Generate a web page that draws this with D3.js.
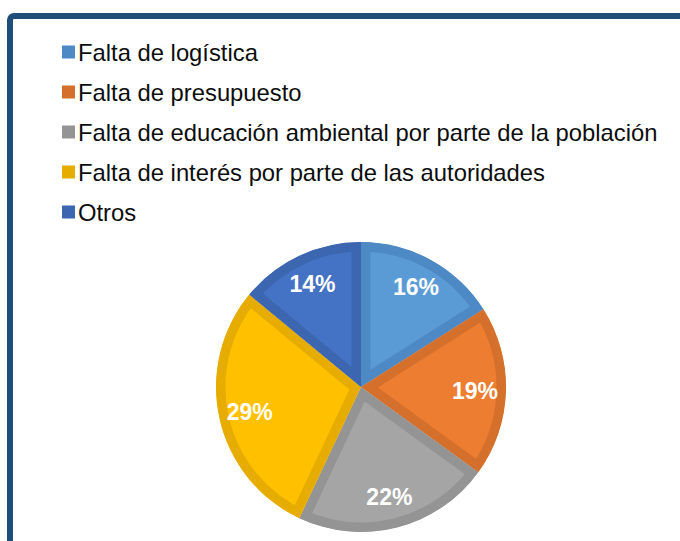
<!DOCTYPE html>
<html>
<head>
<meta charset="utf-8">
<script src="https://cdn.jsdelivr.net/npm/d3@7"></script>
<style>
  body { margin: 0; background: #fff; }
  svg { display: block; }
</style>
</head>
<body>
<div id="chart"></div>
<script>
// data
var categories = [
  "Falta de logística",
  "Falta de presupuesto",
  "Falta de educación ambiental por parte de la población",
  "Falta de interés por parte de las autoridades",
  "Otros"
];
var values = [16, 19, 22, 29, 14];

var fills = ["#5b9bd5", "#ed7d31", "#a5a5a5", "#ffc000", "#4472c4"];
var strokes = ["#4d89c4", "#d5702c", "#949494", "#e6ad00", "#3d66b1"];

var width = 680, height = 541;

var svg = d3.select("#chart")
  .append("svg")
  .attr("width", width)
  .attr("height", height);

// dark blue frame (runs off the right and bottom of the picture)
svg.append("rect")
  .attr("x", 10)
  .attr("y", 16)
  .attr("width", width + 40)
  .attr("height", height + 40)
  .attr("rx", 4)
  .attr("fill", "none")
  .attr("stroke", "#1f4e79")
  .attr("stroke-width", 6);

// legend
var legend = svg.append("g").attr("transform", "translate(62,52)");
var item = legend.selectAll("g")
  .data(categories)
  .enter()
  .append("g")
  .attr("transform", function(d, i) { return "translate(0," + (i * 40) + ")"; });

item.append("rect")
  .attr("x", 0)
  .attr("y", -6.5)
  .attr("width", 13)
  .attr("height", 13)
  .attr("fill", function(d, i) { return strokes[i]; });

item.append("text")
  .attr("x", 16)
  .attr("dy", "0.36em")
  .attr("font-family", "Liberation Sans, Arial, sans-serif")
  .attr("font-size", 23.8)
  .attr("fill", "#0d0d0d")
  .text(function(d) { return d; });

// pie
var radius = 145;
var pie = d3.pie().sort(null).value(function(d) { return d; });
var arc = d3.arc().innerRadius(0).outerRadius(radius);
var labelArc = d3.arc().innerRadius(114).outerRadius(114);

var g = svg.append("g").attr("transform", "translate(361,387)");
var arcs = pie(values);

var defs = svg.append("defs");
defs.selectAll("clipPath")
  .data(arcs)
  .enter()
  .append("clipPath")
  .attr("id", function(d, i) { return "slice" + i; })
  .append("path")
  .attr("d", arc);

// inner border: double-width stroke clipped to its own slice
g.selectAll("path.slice")
  .data(arcs)
  .enter()
  .append("path")
  .attr("class", "slice")
  .attr("d", arc)
  .attr("clip-path", function(d, i) { return "url(#slice" + i + ")"; })
  .attr("fill", function(d, i) { return fills[i]; })
  .attr("stroke", function(d, i) { return strokes[i]; })
  .attr("stroke-width", 19)
  .attr("stroke-linejoin", "miter");

g.selectAll("text.label")
  .data(arcs)
  .enter()
  .append("text")
  .attr("class", "label")
  .attr("transform", function(d) { return "translate(" + labelArc.centroid(d) + ")"; })
  .attr("text-anchor", "middle")
  .attr("dy", "0.35em")
  .attr("font-family", "Liberation Sans, Arial, sans-serif")
  .attr("font-weight", "bold")
  .attr("font-size", 23)
  .attr("fill", "#fff")
  .text(function(d) { return d.data + "%"; });
</script>
</body>
</html>
